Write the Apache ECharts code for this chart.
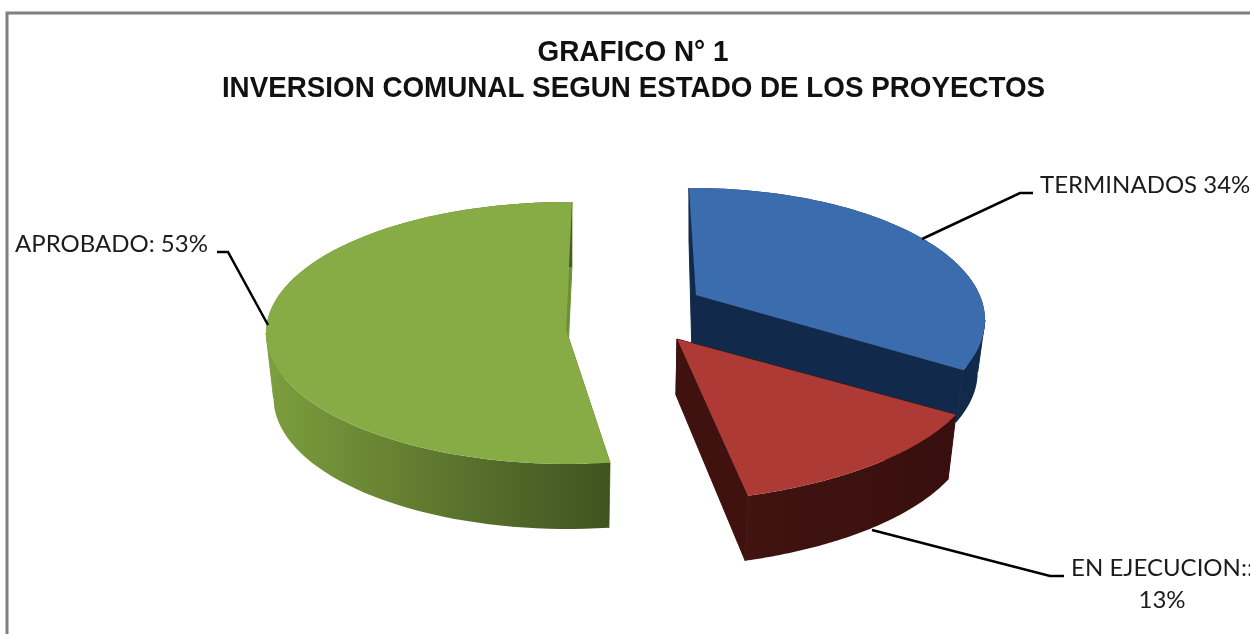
<!DOCTYPE html>
<html>
<head>
<meta charset="utf-8">
<title>Grafico 1</title>
<style>
  html, body { margin: 0; padding: 0; background: #fff; }
  #chart { width: 1250px; height: 634px; }
</style>
<script src="https://cdn.jsdelivr.net/npm/echarts@6/dist/echarts.min.js"></script>
</head>
<body>
<div id="chart"></div>
<script>
const categories = ['TERMINADOS', 'EN EJECUCION', 'APROBADO']
const percentages = [34, 13, 53]
const labelTexts = ['TERMINADOS 34%', 'EN EJECUCION::\n13%', 'APROBADO: 53%']
const titleLines = ['GRAFICO N° 1', 'INVERSION COMUNAL SEGUN ESTADO DE LOS PROYECTOS']

// the original is an exploded 3D pie with perspective, so every slice has its own ellipse
const sliceViews = [
  {
    cx: 692, cy: 320, rx: 293, ry: 132, apex: [696, 295],
    offset: -0.6, warp: 0.922, depth: 52, apexDepth: 60, apexShift: -4,
    top: '#3b6cae', cut: '#11294a',
    wall: ['#132c50', '#11294a']
  },
  {
    cx: 640, cy: 363, rx: 340, ry: 140, apex: [677, 339],
    offset: -10.7, warp: 1.064, depth: 65, apexDepth: 56, apexShift: -1,
    top: '#ae3a36', cut: '#3f1210',
    wall: ['#411311', '#380f0e']
  },
  {
    cx: 568, cy: 333, rx: 302, ry: 131, apex: [566, 330],
    offset: 2.8, warp: 0.9893, depth: 65, apexDepth: 62, apexShift: 0,
    top: '#88ac45', cut: '#6f8f36',
    wall: ['#7d9e3e', '#3f5220']
  }
]

const leaderLines = [
  [[922, 239], [1020, 193], [1033, 193]],
  [[872, 530], [1050, 576], [1064, 576]],
  [[268, 325], [228, 252], [217, 252]]
]
const labelViews = [
  { x: 1040, y: 185, align: 'left' },
  { x: 1162, y: 584, align: 'center' },
  { x: 15, y: 244, align: 'left' }
]

function rimPoint(view, deg, bottom) {
  const rad = deg * Math.PI / 180
  const rx = bottom ? view.rx * 0.975 : view.rx
  return [
    view.cx + rx * Math.sin(rad),
    view.cy + view.ry * -Math.cos(rad) + (bottom ? view.depth : 0)
  ]
}

function rimArc(view, from, to, bottom) {
  const pts = []
  const steps = 80
  for (let i = 0; i <= steps; i++) {
    pts.push(rimPoint(view, from + (to - from) * i / steps, bottom))
  }
  return pts
}

function renderSlice(params, api) {
  const i = params.dataIndex
  const view = sliceViews[i]
  let before = 0
  for (let k = 0; k < i; k++) {
    before += percentages[k]
  }
  const start = before * 3.6 + view.offset
  const end = start + api.value(0) * 3.6 * view.warp
  const apexLow = [view.apex[0] + view.apexShift, view.apex[1] + view.apexDepth]

  const arcTop = rimArc(view, start, end, false)
  const arcLow = rimArc(view, start, end, true)
  const wallFill = new echarts.graphic.LinearGradient(0, 0, 1, 0, [
    { offset: 0, color: view.wall[0] },
    { offset: 1, color: view.wall[1] }
  ])
  const children = []

  // cut faces first, then outer wall, then the top
  children.push({
    type: 'polygon',
    shape: { points: [arcTop[0], view.apex, apexLow, arcLow[0]] },
    style: { fill: view.cut, stroke: view.cut, lineWidth: 1 }
  })
  children.push({
    type: 'polygon',
    shape: { points: [view.apex, arcTop[arcTop.length - 1], arcLow[arcLow.length - 1], apexLow] },
    style: { fill: view.cut, stroke: view.cut, lineWidth: 1 }
  })
  // the side of the wall where the rim turns away, top rim to bottom rim
  const sideDeg = [90, 270].find(d => d > start && d < end)
  if (sideDeg !== undefined) {
    const towards = sideDeg === 90 ? 20 : -20
    children.push({
      type: 'polygon',
      shape: {
        points: [
          rimPoint(view, sideDeg, false),
          rimPoint(view, sideDeg, true),
          rimPoint(view, sideDeg + towards, false)
        ]
      },
      style: {
        fill: sideDeg === 90 ? view.wall[1] : view.wall[0],
        stroke: sideDeg === 90 ? view.wall[1] : view.wall[0],
        lineWidth: 1
      }
    })
  }
  children.push({
    type: 'polygon',
    shape: { points: arcTop.concat(arcLow.slice().reverse()) },
    style: { fill: wallFill }
  })
  children.push({
    type: 'polygon',
    shape: { points: arcTop.concat([view.apex]) },
    style: { fill: view.top }
  })
  children.push({
    type: 'polyline',
    shape: { points: leaderLines[i] },
    style: { stroke: '#000', lineWidth: 2.5, fill: null }
  })
  children.push({
    type: 'text',
    x: labelViews[i].x,
    y: labelViews[i].y,
    style: {
      text: labelTexts[i],
      fill: '#1c1c1c',
      font: '24px Lato',
      lineHeight: 32,
      align: labelViews[i].align,
      verticalAlign: 'middle'
    }
  })
  return { type: 'group', children: children }
}

const chart = echarts.init(document.getElementById('chart'), null, { renderer: 'canvas' })
chart.setOption({
  animation: false,
  backgroundColor: '#fff',
  graphic: [
    {
      type: 'rect',
      shape: { x: 7, y: 13, width: 1260, height: 640 },
      style: { fill: '#fff', stroke: '#7f7f7f', lineWidth: 3 },
      z: -1
    },
    {
      type: 'text',
      x: 633,
      y: 53,
      scaleX: 0.93,
      style: {
        text: titleLines[0],
        font: 'bold 30px "Liberation Sans"',
        fill: '#111',
        align: 'center',
        verticalAlign: 'middle'
      }
    },
    {
      type: 'text',
      x: 633.5,
      y: 89,
      scaleX: 0.926,
      style: {
        text: titleLines[1],
        font: 'bold 30px "Liberation Sans"',
        fill: '#111',
        align: 'center',
        verticalAlign: 'middle'
      }
    }
  ],
  series: [{
    type: 'custom',
    coordinateSystem: 'none',
    renderItem: renderSlice,
    data: categories.map((name, i) => ({ name: name, value: [percentages[i]] }))
  }]
})
</script>
</body>
</html>
